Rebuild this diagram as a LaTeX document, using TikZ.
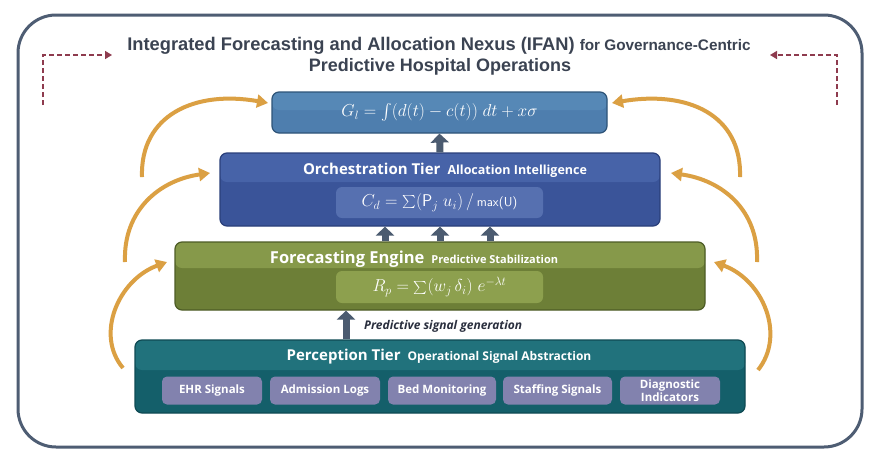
\documentclass[tikz,border=0pt]{standalone}
\usepackage{fontspec}
\usepackage{graphicx}
\setmainfont{Open Sans}
\newfontfamily\titlefont{Liberation Sans}
\usetikzlibrary{arrows.meta,calc}
\definecolor{framec}{HTML}{4E5D73}
\definecolor{titlec}{HTML}{3B4352}
\definecolor{gfill}{HTML}{4E7EAE}
\definecolor{gtop}{HTML}{5688B6}
\definecolor{gdraw}{HTML}{2E5478}
\definecolor{ofill}{HTML}{3A5499}
\definecolor{otop}{HTML}{4763A8}
\definecolor{odraw}{HTML}{2A3F7A}
\definecolor{oinner}{HTML}{5670B0}
\definecolor{ffill}{HTML}{6D7F37}
\definecolor{ftop}{HTML}{86994A}
\definecolor{fdraw}{HTML}{4D5C26}
\definecolor{finner}{HTML}{8DA04E}
\definecolor{pfill}{HTML}{145F6A}
\definecolor{ptop}{HTML}{21727C}
\definecolor{pdraw}{HTML}{0F4A53}
\definecolor{chipc}{HTML}{8282AE}
\definecolor{orangec}{HTML}{DBA043}
\definecolor{arrc}{HTML}{4B5B70}
\definecolor{dashc}{HTML}{8E3B4E}
\definecolor{labelc}{HTML}{2A2F3E}
\newcommand{\bigsum}{\mathop{\raisebox{-1.5pt}{\scalebox{1.3}{$\sum$}}}\nolimits}
\newcommand{\bigint}{\mathop{\raisebox{-2.5pt}{\scalebox{1.6}{$\int$}}}\nolimits}
\begin{document}
\begin{tikzpicture}[x=1pt,y=-1pt,
  tierbox/.style n args={4}{rounded corners=7pt, fill=#1, draw=#3, line width=1.2pt,
    path picture={\fill[#2] ([yshift=2pt]path picture bounding box.north west) rectangle ([yshift=-#4]path picture bounding box.north east);}},
  innerbox/.style={rounded corners=6pt, fill=#1, minimum width=207pt, minimum height=31pt, inner sep=0pt, text=white},
  tiertitle/.style={text=white, font=\bfseries, inner sep=0pt},
  chip/.style={fill=chipc, rounded corners=5pt, minimum height=28pt, minimum width=#1, text=white,
    font=\bfseries\fontsize{11.5}{11}\selectfont, align=center, inner sep=1pt},
  blockarr/.style={line width=7pt, color=arrc, -{Triangle[length=9pt,width=18pt]}},
  orangearr/.style={line width=4pt, color=orangec, -{Triangle[length=11pt,width=13pt]}},
  dasharr/.style={line width=1.5pt, color=dashc, dash pattern=on 5pt off 3pt, -{Triangle[length=7pt,width=8pt]}}
]
\useasboundingbox (0,0) rectangle (885,469);
\fill[white] (0,0) rectangle (885,469);
% frame
\draw[line width=3pt, color=framec, rounded corners=38pt] (18,15) rectangle (862,447);
% title
\node[font=\titlefont\bfseries, text=titlec, inner sep=0pt, anchor=base] (t1) at (439,50)
  {\fontsize{18.3}{21}\selectfont Integrated Forecasting and Allocation Nexus (IFAN) {\fontsize{15.3}{18}\selectfont for Governance-Centric}};
\node[font=\titlefont\bfseries, text=titlec, inner sep=0pt, anchor=base] (t2) at (440,71)
  {\fontsize{18}{21}\selectfont Predictive Hospital Operations};
% dashed corner arrows
\coordinate (dl1) at (43,105); \coordinate (dl2) at (43,55); \coordinate (dl3) at (112,55);
\coordinate (dr1) at (837,105); \coordinate (dr2) at (837,55); \coordinate (dr3) at (770,55);
\draw[dasharr] (dl1) -- (dl2) -- (dl3);
\draw[dasharr] (dr1) -- (dr2) -- (dr3);
% G box
\node[tierbox={gfill}{gtop}{gdraw}{18pt}, minimum width=335pt, minimum height=41pt, inner sep=0pt] (gbox) at (439.5,112.5) {};
\node[text=white, inner sep=0pt] (gform) at (gbox.center)
  {\fontsize{18}{20}\selectfont $G_l = \bigint (d(t) - c(t))\; dt + x\sigma$};
% Orchestration
\node[tierbox={ofill}{otop}{odraw}{29pt}, minimum width=440pt, minimum height=73pt, inner sep=0pt] (orch) at (440,189.5) {};
\node[tiertitle] (otitle) at (445,170)
  {\fontsize{15}{17}\selectfont Orchestration Tier\hspace{7pt}{\fontsize{12.5}{14}\selectfont Allocation Intelligence}};
\node[innerbox=oinner] (cbox) at (439.5,202.5)
  {\fontsize{17}{20}\selectfont $C_d = \bigsum (\mathsf{P}_j\ u_i)\,/\,\textsf{\fontsize{13}{15}\selectfont max(U)}$};
% Forecasting
\node[tierbox={ffill}{ftop}{fdraw}{26pt}, minimum width=530pt, minimum height=68pt, inner sep=0pt] (fore) at (440,276) {};
\node[tiertitle] (ftitle) at (414,259)
  {\fontsize{16.5}{18}\selectfont Forecasting Engine\hspace{7pt}{\fontsize{11}{13}\selectfont Predictive Stabilization}};
\node[innerbox=finner, minimum height=32pt] (rbox) at (439.5,287)
  {\fontsize{17}{20}\selectfont $R_p = \bigsum (w_j\,\delta_i)\; e^{-\lambda t}$};
% Perception
\node[tierbox={pfill}{ptop}{pdraw}{30pt}, minimum width=610pt, minimum height=73pt, inner sep=0pt] (perc) at (440,376.5) {};
\node[tiertitle] (ptitle) at (439,357)
  {\fontsize{15}{17}\selectfont Perception Tier\hspace{7pt}{\fontsize{12}{14}\selectfont Operational Signal Abstraction}};
\node[chip=100pt] (c1) at (212,390.5) {EHR Signals};
\node[chip=110pt] (c2) at (325,390.5) {Admission Logs};
\node[chip=108pt] (c3) at (442,390.5) {Bed Monitoring};
\node[chip=109pt] (c4) at (557.5,390.5) {Staffing Signals};
\node[chip=100pt] (c5) at (670,390.5) {Diagnostic\\Indicators};
% block arrows
\draw[blockarr] (orch.north) -- (gbox.south);
\draw[blockarr] ($(fore.north)+(-55,0)$) -- ($(orch.south)+(-55,0)$);
\draw[blockarr] (fore.north) -- (orch.south);
\draw[blockarr] ($(fore.north)+(50,0)$) -- ($(orch.south)+(50,0)$);
\draw[blockarr] ($(perc.north)+(-94,0)$) -- ($(fore.south)+(-94,0)$);
\node[anchor=west, text=labelc, font=\bfseries\itshape\fontsize{12}{14}\selectfont, inner sep=0pt] (siglabel) at (364,326) {Predictive signal generation};
% orange arcs left
\coordinate (la1) at (142,177); \coordinate (la2) at (268,103);
\coordinate (lb1) at (125,262); \coordinate (lb2) at (210,173);
\coordinate (lc1) at (123,368); \coordinate (lc2) at (167,262);
\draw[orangearr] (la1) .. controls (140,115) and (195,90) .. (la2);
\draw[orangearr] (lb1) .. controls (123,210) and (160,180) .. (lb2);
\draw[orangearr] (lc1) .. controls (95,335) and (118,280) .. (lc2);
% orange arcs right
\coordinate (ra1) at (740,177); \coordinate (ra2) at (612,103);
\coordinate (rb1) at (757,262); \coordinate (rb2) at (671,173);
\coordinate (rc1) at (758,370); \coordinate (rc2) at (714,262);
\draw[orangearr] (ra1) .. controls (742,115) and (688,90) .. (ra2);
\draw[orangearr] (rb1) .. controls (759,210) and (722,180) .. (rb2);
\draw[orangearr] (rc1) .. controls (786,335) and (763,280) .. (rc2);
\end{tikzpicture}
\end{document}
